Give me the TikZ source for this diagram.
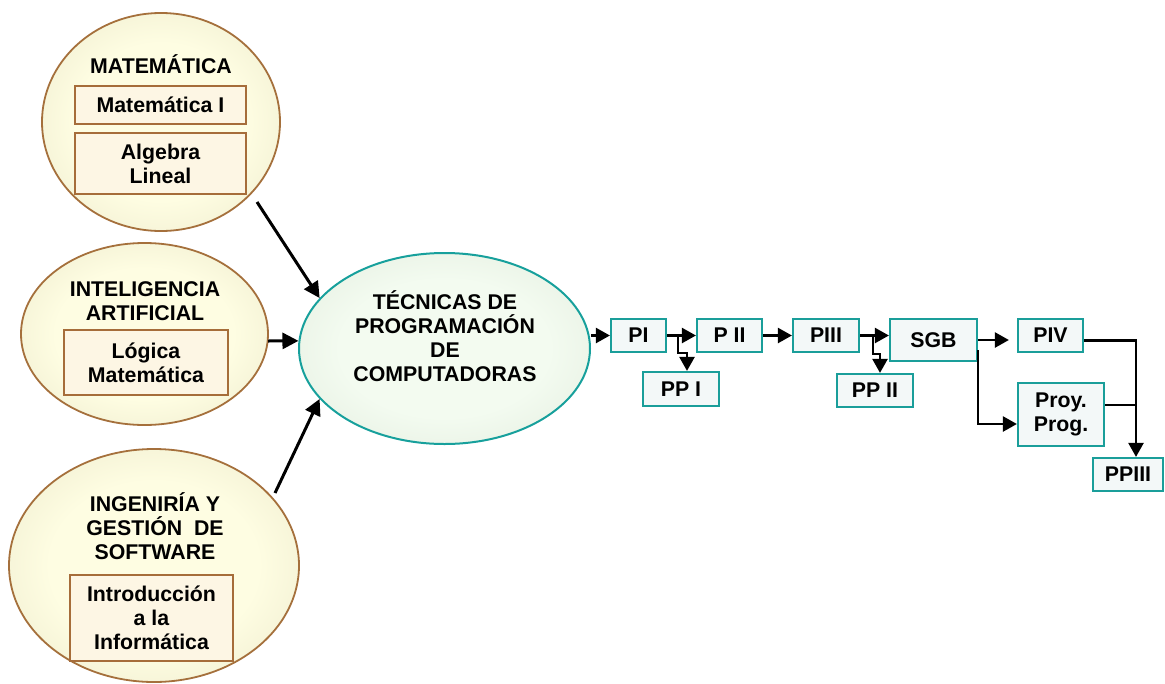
\documentclass[tikz,border=0pt]{standalone}
\usepackage{fontspec}
\setmainfont{Liberation Sans}
\usetikzlibrary{shapes.geometric,arrows.meta,calc}

\definecolor{areaedge}{HTML}{A5703C}
\definecolor{areain}{HTML}{FEFDE2}
\definecolor{areaout}{HTML}{DEDABA}
\definecolor{subjfill}{HTML}{FDF6E4}
\definecolor{subjedge}{HTML}{A66D3A}
\definecolor{coreedge}{HTML}{17A09C}
\definecolor{corein}{HTML}{F3FBF0}
\definecolor{coreout}{HTML}{D6E1D0}
\definecolor{stepfill}{HTML}{F3F8F8}
\definecolor{stepedge}{HTML}{1A9E9A}

\pgfdeclareradialshading{areashade}{\pgfpoint{0bp}{0bp}}{%
  color(0bp)=(areain); color(18bp)=(areain); color(50bp)=(areaout)}
\pgfdeclareradialshading{coreshade}{\pgfpoint{0bp}{0bp}}{%
  color(0bp)=(corein); color(18bp)=(corein); color(50bp)=(coreout)}

\begin{document}
\begin{tikzpicture}[x=1pt,y=-1pt,
  every node/.style={font=\fontsize{21.3}{24}\selectfont\bfseries, align=center, inner sep=0pt},
  area/.style={ellipse, draw=areaedge, line width=1.8pt, shading=areashade},
  core/.style={ellipse, draw=coreedge, line width=2pt, shading=coreshade},
  subj/.style={rectangle, draw=subjedge, line width=2.2pt, fill=subjfill},
  stepbox/.style={rectangle, draw=stepedge, line width=2.2pt, fill=stepfill},
  feed/.style={line width=3pt, -{Triangle[length=16pt,width=16pt]}},
  flow/.style={line width=2.4pt, -{Triangle[length=14pt,width=15pt]}},
  plain/.style={line width=2.4pt}]

\useasboundingbox (0,0) rectangle (1165,683);

% knowledge areas
\node[area, minimum width=238, minimum height=218] (e1) at (161,122) {};
\node[area, minimum width=247, minimum height=182] (e2) at (144.5,334) {};
\node[area, minimum width=290, minimum height=233] (e3) at (154,565.5) {};

\node (t1) at (161,64) {MATEMÁTICA};
\node[subj, minimum width=171, minimum height=38] (b1) at (160.5,105) {Matemática I};
\node[subj, minimum width=171, minimum height=61] (b2) at (160.5,163.5) {Algebra\\Lineal};

\node (t2) at (145,301) {INTELIGENCIA\\ARTIFICIAL};
\node[subj, minimum width=164, minimum height=65] (b3) at (146,362.5) {Lógica\\Matemática};

\node (t3) at (155,526) {INGENIRÍA Y\\GESTIÓN\ \ DE\\SOFTWARE};
\node[subj, minimum width=163, minimum height=86] (b4) at (151.5,618) {Introducción\\a la\\Informática};

% central subject
\node[core, minimum width=291, minimum height=191] (tc) at (444.5,348.5) {};
\node (tct) at (445,336) {TÉCNICAS DE\\PROGRAMACIÓN\\DE\\COMPUTADORAS};

\coordinate (s1) at (257,202);
\coordinate (s2) at (268,341);
\coordinate (s3) at (275,493);
\draw[feed] (s1) -- (tc.158);
\draw[feed] (s2) -- (tc.177);
\draw[feed] (s3) -- (tc.202);

% course sequence
\node[stepbox, minimum width=55, minimum height=33] (PI) at (638.5,335.5) {PI};
\node[stepbox, minimum width=65, minimum height=33] (PII) at (729.5,335.5) {P II};
\node[stepbox, minimum width=66, minimum height=33] (PIII) at (826,335.5) {PIII};
\node[stepbox, minimum width=87, minimum height=42] (SGB) at (933.5,340) {SGB};
\node[stepbox, minimum width=76, minimum height=34] (PP1) at (681,389) {PP I};
\node[stepbox, minimum width=76, minimum height=33] (PP2) at (875,390.5) {PP II};
\node[stepbox, minimum width=65, minimum height=33] (PIV) at (1050.5,335.5) {PIV};
\node[stepbox, minimum width=86, minimum height=63] (Proy) at (1061,414.5) {Proy.\\Prog.};
\node[stepbox, minimum width=70, minimum height=33] (PPIII) at (1128,474.5) {PPIII};

\draw[flow] (PI.west -| tc.east) -- (PI.west);
\draw[flow] (PI.east) -- (PII.west);
\draw[flow] ([xshift=11pt]PI.east) |- ([xshift=6pt,yshift=18pt]PP1.north) -- ([xshift=6pt]PP1.north);
\draw[flow] (PII.east) -- (PIII.west);
\draw[flow] (PIII.east) -- (SGB.west |- PIII.east);
\draw[flow] ([xshift=13pt]PIII.east) |- ([xshift=5pt,yshift=19pt]PP2.north) -- ([xshift=5pt]PP2.north);
\draw[flow, shorten >=8pt] (SGB.east) -- (SGB.east -| PIV.west);
\draw[flow] ([yshift=-10pt]SGB.east) |- ([yshift=-9.5pt]Proy.west);

\coordinate (drop) at ([xshift=8pt]PPIII.north);
\draw[flow] ([yshift=-5pt]PIV.east) -| (drop);
\draw[plain] ([yshift=9.5pt]Proy.east) -- ([yshift=9.5pt]Proy.east -| drop);

\end{tikzpicture}
\end{document}
